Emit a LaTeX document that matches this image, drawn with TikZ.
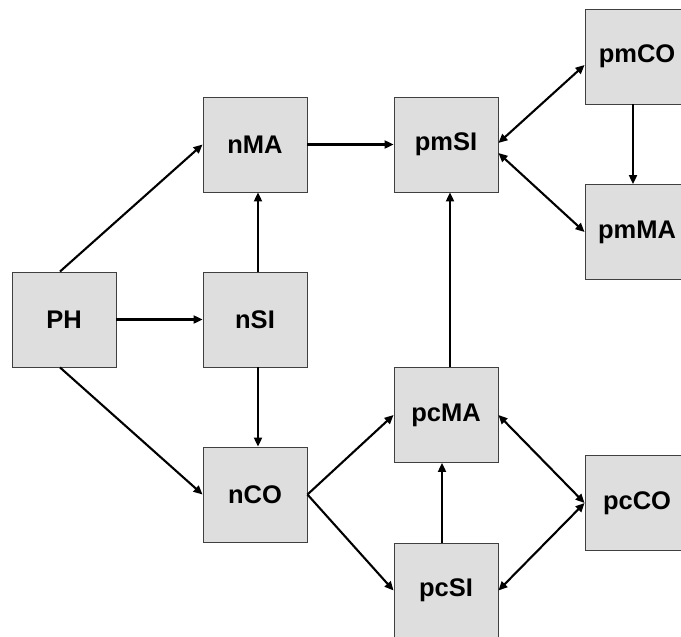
\documentclass[tikz,border=0pt]{standalone}
\usepackage{fontspec}
\setmainfont{Liberation Sans}
\usetikzlibrary{arrows.meta}
\begin{document}
\begin{tikzpicture}[x=1pt,y=-1pt,
  box/.style={draw=black!75, line width=0.9pt, fill=black!13, minimum width=104pt,
    minimum height=95pt, inner sep=0pt, font=\fontsize{25.5}{29}\selectfont\bfseries},
  tip/.tip={Triangle[length=9pt,width=8pt]},
  link/.style={line width=2.1pt, -tip},
  both/.style={line width=2.1pt, tip-tip}]
\useasboundingbox (0,0) rectangle (681,637);
\clip (0,0) rectangle (681,637);
% process boxes
\node[box] (PH)   at (64,319.5)  {PH};
\node[box] (nMA)  at (255,144.5) {nMA};
\node[box] (nSI)  at (255,319.5) {nSI};
\node[box] (nCO)  at (255,494.5) {nCO};
\node[box] (pmSI) at (446,144.5) {pmSI};
\node[box] (pcMA) at (446,415)   {pcMA};
\node[box] (pcSI) at (446,590.5) {pcSI};
\node[box] (pmCO) at (637,56.5)  {pmCO};
\node[box] (pmMA) at (637,232)   {pmMA};
\node[box] (pcCO) at (637,503)   {pcCO};
% connectors
\draw[link] ([xshift=-4pt]PH.north) -- (nMA.west);
\draw[link] (PH.east) -- (nSI.west);
\draw[link] ([xshift=-4pt]PH.south) -- (nCO.west);
\draw[link] ([xshift=3pt]nSI.north) -- ([xshift=3pt]nMA.south);
\draw[link] ([xshift=3pt]nSI.south) -- ([xshift=3pt]nCO.north);
\draw[link] (nMA.east) -- (pmSI.west);
\draw[link] (nCO.east) -- (pcMA.west);
\draw[link] (nCO.east) -- (pcSI.west);
\draw[link] ([xshift=-4pt]pcSI.north) -- ([xshift=-4pt]pcMA.south);
\draw[link] ([xshift=4pt]pcMA.north) -- ([xshift=4pt]pmSI.south);
\draw[link] ([xshift=-4pt]pmCO.south) -- ([xshift=-4pt]pmMA.north);
\draw[both] ([yshift=1.5pt]pmSI.east) -- ([yshift=-8.5pt]pmCO.west);
\draw[both] ([yshift=-8.5pt]pmSI.east) -- (pmMA.west);
\draw[both] (pcCO.west) -- (pcMA.east);
\draw[both] (pcCO.west) -- (pcSI.east);
\end{tikzpicture}
\end{document}
